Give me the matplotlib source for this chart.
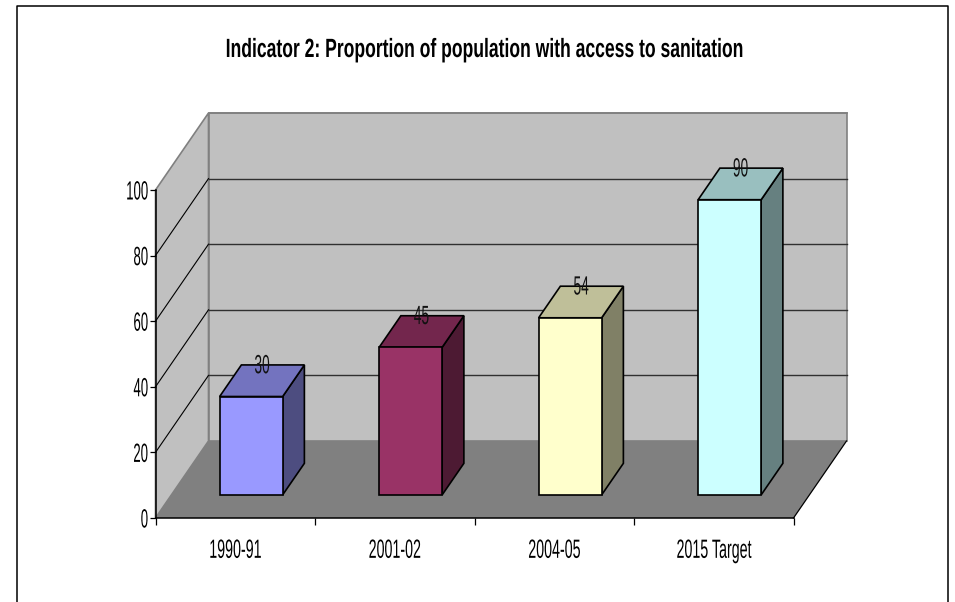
import matplotlib
matplotlib.use("Agg")
import matplotlib.pyplot as plt
import matplotlib.patheffects as pe
from matplotlib.lines import Line2D
from matplotlib.transforms import Affine2D

categories = ["1990-91", "2001-02", "2004-05", "2015 Target"]
values = [30, 45, 54, 90]
y_ticks = [0, 20, 40, 60, 80, 100]
front_colors = ["#9999FF", "#993366", "#FFFFCC", "#CCFFFF"]
top_colors = ["#7373BF", "#73264D", "#BFBF99", "#99BFBF"]
side_colors = ["#4D4D80", "#4D1A33", "#808066", "#668080"]
title = "Indicator 2: Proportion of population with access to sanitation"

W, H = 955, 602
# how far the back wall is shifted from the front plane, in data units
DEPTH_X = 53 / 159.5
DEPTH_Y = 77 / 3.28
BAR_W = 0.395
BAR_D0 = 0.30
BAR_D1 = 0.71


class Squeeze(pe.AbstractPathEffect):
    # the source chart has horizontally squashed text
    def __init__(self, k, anchor=0.5):
        super().__init__()
        self.k = k
        self.anchor = anchor

    def draw_path(self, renderer, gc, tpath, affine, rgbFace=None):
        m = affine.get_matrix().copy()
        ext = tpath.get_extents(Affine2D(m))
        cx = ext.x0 + (ext.x1 - ext.x0) * self.anchor
        m[0, 0] *= self.k
        m[0, 2] = cx + (m[0, 2] - cx) * self.k
        renderer.draw_path(gc, tpath, Affine2D(m), rgbFace)


def pt(x, v, d):
    return x + d * DEPTH_X, v + d * DEPTH_Y


def face(ax, corners, color, edge="black", lw=1.2, z=2):
    xs = [pt(*c)[0] for c in corners]
    ys = [pt(*c)[1] for c in corners]
    ax.fill(xs, ys, facecolor=color, edgecolor=edge, linewidth=lw,
            joinstyle="miter", clip_on=False, zorder=z)


plt.rcParams["font.family"] = ["Liberation Sans", "DejaVu Sans"]
fig = plt.figure(figsize=(W / 100, H / 100), dpi=100)
ax = fig.add_axes([155.5 / W, 1 - 518 / H, 638 / W, 328 / H])
ax.set_xlim(0, len(categories))
ax.set_ylim(0, 100)
ax.patch.set_visible(False)

n = len(categories)
# walls and floor
face(ax, [(0, 0, 0), (0, 0, 1), (0, 100, 1), (0, 100, 0)], "#C0C0C0", "#808080", 1.2, 1)
face(ax, [(0, 0, 1), (n, 0, 1), (n, 100, 1), (0, 100, 1)], "#C0C0C0", "#808080", 1.2, 1)
face(ax, [(0, 0, 0), (n, 0, 0), (n, 0, 1), (0, 0, 1)], "#808080", "none", 0, 1.1)
ax.plot(*zip(pt(n, 0, 0), pt(n, 0, 1)), color="black", lw=0.9, clip_on=False, zorder=1.2)

# gridlines
for t in y_ticks[1:-1]:
    ax.plot(*zip(pt(0, t, 0), pt(0, t, 1)), color="black", lw=0.8, clip_on=False, zorder=1.3)
    ax.plot(*zip(pt(0, t, 1), pt(n, t, 1)), color="#303030", lw=1.0, clip_on=False, zorder=1.3)
ax.plot(*zip(pt(0, 100, 1), pt(n, 100, 1)), color="#808080", lw=1.2, clip_on=False, zorder=1.3)

# bars
for i, v in enumerate(values):
    x0 = i + 0.5 - BAR_W / 2
    x1 = i + 0.5 + BAR_W / 2
    face(ax, [(x1, 0, BAR_D0), (x1, 0, BAR_D1), (x1, v, BAR_D1), (x1, v, BAR_D0)], side_colors[i])
    face(ax, [(x0, v, BAR_D0), (x1, v, BAR_D0), (x1, v, BAR_D1), (x0, v, BAR_D1)], top_colors[i])
    face(ax, [(x0, 0, BAR_D0), (x1, 0, BAR_D0), (x1, v, BAR_D0), (x0, v, BAR_D0)], front_colors[i])
    # value label sits over the middle of the bar, at its back edge
    lx = pt(i + 0.5, v, (BAR_D0 + BAR_D1) / 2)[0]
    ly = pt(i + 0.5, v, BAR_D1)[1]
    ax.text(lx, ly - 0.4, str(v), ha="center", va="center", fontsize=19, color="#111111",
            clip_on=False, zorder=3, path_effects=[Squeeze(0.52)])

# axes
for s in ["top", "right"]:
    ax.spines[s].set_visible(False)
for s in ["left", "bottom"]:
    ax.spines[s].set_linewidth(1.1)
    ax.spines[s].set_zorder(2.5)
ax.set_yticks(y_ticks)
ax.set_xticks(range(n + 1))
ax.set_xticklabels([])
ax.set_xticks([i + 0.5 for i in range(n)], minor=True)
ax.set_xticklabels(categories, minor=True)
ax.tick_params(axis="x", which="major", length=5, width=0.9)
ax.tick_params(axis="x", which="minor", length=0, pad=15, labelsize=19)
ax.tick_params(axis="y", length=4, width=0.9, pad=1, labelsize=19)
for lab in ax.get_xticklabels(minor=True):
    lab.set_path_effects([Squeeze(0.54)])
for lab in ax.get_yticklabels():
    lab.set_path_effects([Squeeze(0.5, anchor=1)])

fig.text(485 / W, 1 - 50 / H, title, ha="center", va="center", fontsize=19, fontweight="bold",
         path_effects=[Squeeze(0.665)])

# outer frame, runs off the bottom of the picture
fig.add_artist(Line2D([17 / W, 17 / W, 948 / W, 948 / W], [0, 1 - 6 / H, 1 - 6 / H, 0],
                      color="black", lw=1.1))

fig.savefig("out.png", dpi=100)
